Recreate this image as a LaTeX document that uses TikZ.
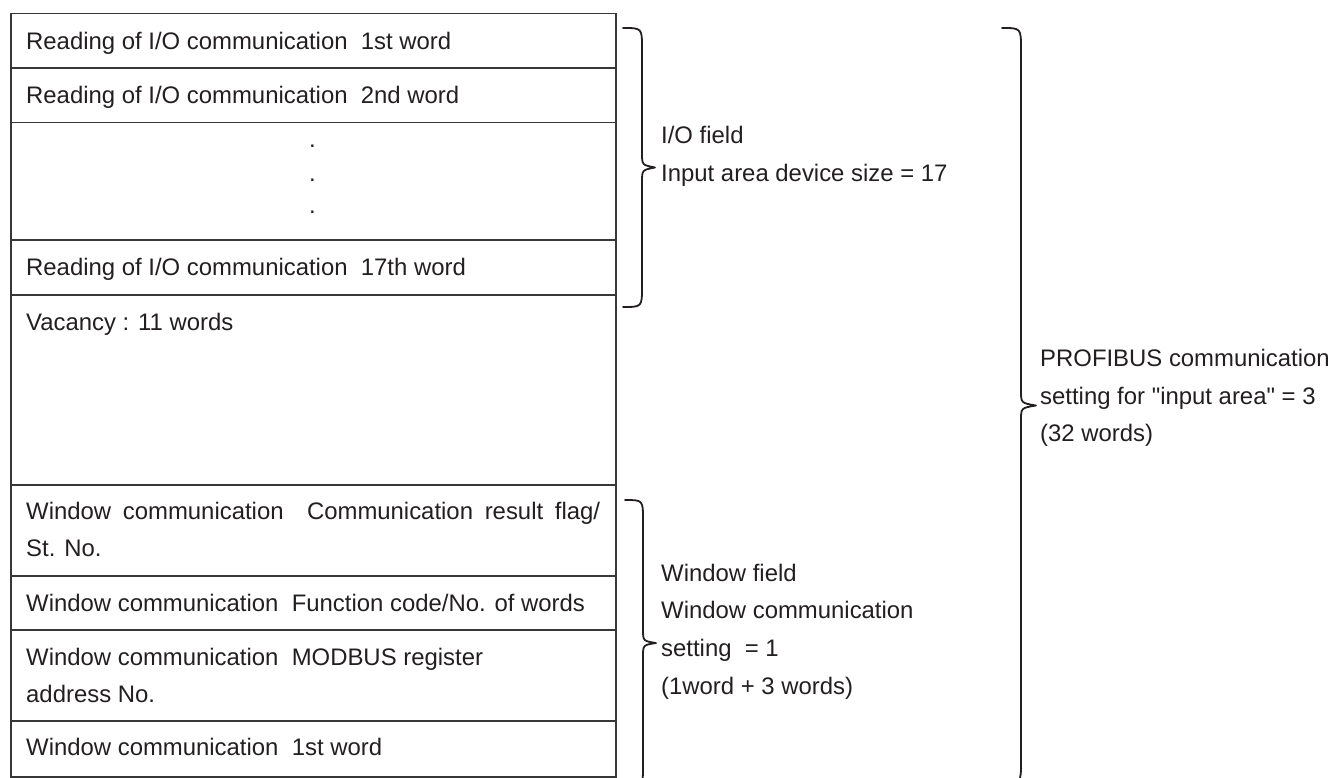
\documentclass[tikz,border=0pt]{standalone}
\usepackage{fontspec}
\setmainfont{Liberation Sans}
\definecolor{txt}{RGB}{35,31,32}
\definecolor{ln}{RGB}{55,55,55}
\newcommand\myfs{\fontsize{23.9pt}{37pt}\selectfont}
\newcommand\sq{\XeTeXglyph\XeTeXglyphindex "quotedbl"\relax}
\tikzset{
  cell/.style={draw=ln, line width=1.7pt, minimum width=605pt, inner sep=0pt, anchor=north west},
  lbl/.style={anchor=base west, inner sep=0pt, font=\myfs, text=txt},
  dotlbl/.style={anchor=base, inner sep=0pt, font=\myfs, text=txt},
  bracepath/.style={draw=txt, line width=1.8pt, line cap=round, line join=round}
}
\begin{document}
\begin{tikzpicture}[x=1pt,y=-1pt]
\useasboundingbox (0,0) rectangle (1331,778);
\clip (0,0) rectangle (1331,778);
% rows
\node[cell, minimum height=54.6pt] (r1) at (10,12.7) {};
\node[cell, minimum height=54.4pt] (r2) at (10,67.3) {};
\node[cell, minimum height=117.6pt] (r3) at (10,121.7) {};
\node[cell, minimum height=54.7pt] (r4) at (10,239.3) {};
\node[cell, minimum height=190pt] (r5) at (10,294) {};
\node[cell, minimum height=91pt] (r6) at (10,484) {};
\node[cell, minimum height=54pt] (r7) at (10,575) {};
\node[cell, minimum height=91pt] (r8) at (10,629) {};
\node[cell, minimum height=56pt] (r9) at (10,720) {};
% row texts
\node[lbl] (t1) at (26,49.3) {Reading of I/O communication\ \ 1st word};
\node[lbl] (t2) at (26,103.6) {Reading of I/O communication\ \ 2nd word};
\node[dotlbl] (d1) at (312.5,148) {.};
\node[dotlbl] (d2) at (312.5,181.5) {.};
\node[dotlbl] (d3) at (312.5,214) {.};
\node[lbl] (t4) at (26,275.3) {Reading of I/O communication\ \ 17th word};
\node[lbl] (t5) at (26,330) {Vacancy : 11 words};
\node[lbl] (t6a) at (26,519) {\makebox[574pt][s]{Window communication\ \ Communication result flag/}};
\node[lbl] (t6b) at (26,556) {St. No.};
\node[lbl] (t7) at (26,611) {Window communication\ \ Function code/No. of words};
\node[lbl] (t8a) at (26,665) {Window communication\ \ MODBUS register};
\node[lbl] (t8b) at (26,702) {address No.};
\node[lbl] (t9) at (26,755) {Window communication\ \ 1st word};
% I/O brace
\draw[bracepath] (623,28) .. controls (642,28) .. (642,48) -- (642,153)
  .. controls (642,165) .. (655,167.5) .. controls (642,170) .. (642,182)
  -- (642,287) .. controls (642,307) .. (623,307);
% window brace
\draw[bracepath] (625,500) .. controls (643,500) .. (643,520) -- (643,629)
  .. controls (643,641) .. (656,643) .. controls (643,645) .. (643,657)
  -- (643,766) .. controls (643,786) .. (625,786);
% big brace
\draw[bracepath] (1002,28) .. controls (1021,28) .. (1021,49) -- (1021,391)
  .. controls (1021,403) .. (1036,405.5) .. controls (1021,408) .. (1021,420)
  -- (1021,762) .. controls (1021,783) .. (1002,783);
% right texts
\node[lbl] (io1) at (661,143.5) {I/O field};
\node[lbl] (io2) at (661,181.5) {Input area device size = 17};
\node[lbl] (w1) at (661,581.5) {Window field};
\node[lbl] (w2) at (661,618.5) {Window communication};
\node[lbl] (w3) at (661,656) {setting\ \ = 1};
\node[lbl] (w4) at (661,694) {(1word + 3 words)};
\node[lbl] (p1) at (1040,366.5) {PROFIBUS communication};
\node[lbl] (p2) at (1040,404) {setting for \sq input area\sq{} = 3};
\node[lbl] (p3) at (1040,441.5) {(32 words)};
\end{tikzpicture}
\end{document}
